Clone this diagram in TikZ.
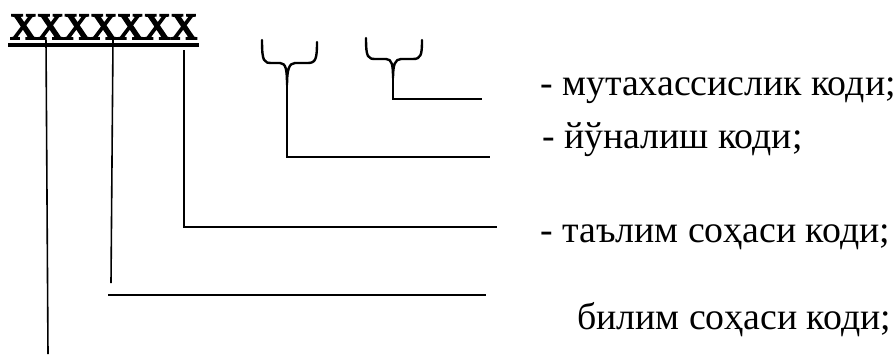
\documentclass[tikz,border=0pt]{standalone}
\usepackage{fontspec}
\setmainfont{Liberation Serif}
\newfontfamily\codefont{Liberation Serif}[FakeBold=5]
\usetikzlibrary{positioning}

\begin{document}
\begin{tikzpicture}[
    x=1pt, y=-1pt,
    lbl/.style={anchor=base west, inner sep=0pt, font=\fontsize{37.8}{44}\selectfont},
    link/.style={line width=1.6pt},
    curl/.style={line width=2.4pt, line join=round, line cap=round}
]
    \useasboundingbox[fill=white] (0,0) rectangle (894,354);

    % Code and its underline
    \node[lbl, font=\fontsize{37}{44}\codefont] (code) at (10,39) {XXXXXXX};
    \draw[line width=3.5pt] ([xshift=-2pt, yshift=-6pt]code.base west) -- ([xshift=2pt, yshift=-6pt]code.base east);

    % Labels
    \node[lbl] (spec) at (540,95) {- мутахассислик коди;};
    \node[lbl] (dir) at (542,148) {- йўналиш коди;};
    \node[lbl] (edu) at (540,242) {- таълим соҳаси коди;};
    \node[lbl] (know) at (577,329) {билим соҳаси коди;};

    % Line ends
    \coordinate (spectip) at (393,78);
    \coordinate (specend) at (482,99);
    \coordinate (dirtip) at (287,85);
    \coordinate (dirend) at (490,157);
    \coordinate (edutop) at (184,50);
    \coordinate (eduend) at (497,227);
    \coordinate (knowtop) at (113,40);
    \coordinate (knowbot) at (111,283);
    \coordinate (knowleft) at (108,295);
    \coordinate (knowend) at (486,295);
    \coordinate (firsttop) at (46,40);
    \coordinate (firstbot) at (48,354);

    % Braces
    \draw[curl] (262,40) .. controls (262,62) and (264,63) .. (272,63) -- (280,63)
        .. controls (286,63) and (287,70) .. (dirtip)
        .. controls (287,70) and (289,63) .. (295,63) -- (308,63)
        .. controls (316,63) and (317,58) .. (317,42);
    \draw[curl] (366,38) .. controls (366,58) and (368,59) .. (376,59) -- (386,59)
        .. controls (392,59) and (393,65) .. (spectip)
        .. controls (393,65) and (395,59) .. (401,59) -- (413,59)
        .. controls (421,59) and (422,55) .. (422,40);

    % Connectors
    \draw[link] (spectip) |- (specend);
    \draw[link] (dirtip) |- (dirend);
    \draw[link] (edutop) |- (eduend);
    \draw[link] (knowtop) -- (knowbot);
    \draw[link] (knowleft) -- (knowend);
    \draw[link] (firsttop) -- (firstbot);
\end{tikzpicture}
\end{document}
